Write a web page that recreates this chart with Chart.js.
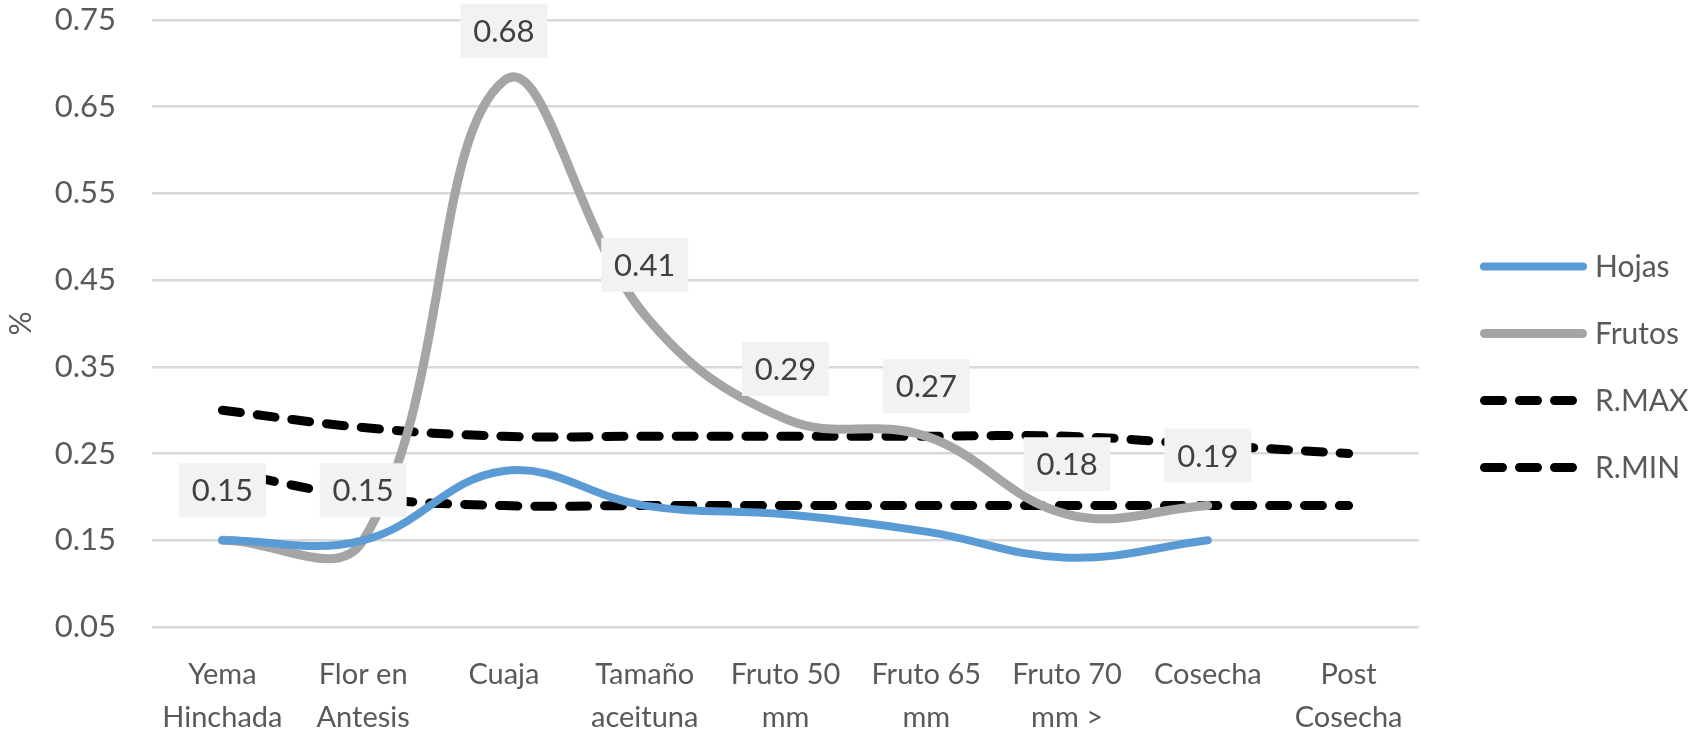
<!DOCTYPE html>
<html>
<head>
<meta charset="utf-8">
<script src="https://cdn.jsdelivr.net/npm/chart.js@4.4.1/dist/chart.umd.min.js"></script>
<style>
  html, body { margin: 0; padding: 0; background: #ffffff; }
  #wrap { width: 1696px; height: 734px; }
</style>
</head>
<body>
<div id="wrap"><canvas id="lineChart"></canvas></div>
<script>
const stages = [
  ["Yema", "Hinchada"],
  ["Flor en", "Antesis"],
  ["Cuaja"],
  ["Tamaño", "aceituna"],
  ["Fruto 50", "mm"],
  ["Fruto 65", "mm"],
  ["Fruto 70", "mm >"],
  ["Cosecha"],
  ["Post", "Cosecha"],
];

const hojas = [0.15, 0.15, 0.23, 0.19, 0.18, 0.16, 0.13, 0.15, null];
const frutos = [0.15, 0.15, 0.68, 0.41, 0.29, 0.27, 0.18, 0.19, null];
const rMax = [0.3, 0.28, 0.27, 0.27, 0.27, 0.27, 0.27, 0.26, 0.25];
const rMin = [0.23, 0.2, 0.19, 0.19, 0.19, 0.19, 0.19, 0.19, 0.19];

const yTicks = [0.05, 0.15, 0.25, 0.35, 0.45, 0.55, 0.65, 0.75];

const textColor = "#595959";
Chart.defaults.font.family = "Lato";

// grey value boxes sitting above the Frutos points
const valueBoxes = {
  id: "valueBoxes",
  afterDatasetsDraw(chart) {
    const ctx = chart.ctx;
    const meta = chart.getDatasetMeta(1);
    const w = 87;
    const h = 54;
    ctx.save();
    ctx.font = "31px Lato";
    ctx.textAlign = "center";
    ctx.textBaseline = "middle";
    meta.data.forEach((pt, i) => {
      const v = frutos[i];
      if (v === null) return;
      const top = pt.y - 23 - h;
      ctx.fillStyle = "#f2f2f2";
      ctx.fillRect(pt.x - w / 2, top, w, h);
      ctx.fillStyle = "#404040";
      ctx.fillText(v.toFixed(2), pt.x, top + h / 2 + 1);
    });
    ctx.restore();
  },
};

// legend on the right, one line sample per series
const sideLegend = {
  id: "sideLegend",
  afterDraw(chart) {
    const ctx = chart.ctx;
    const x0 = chart.chartArea.right + 61;
    const x1 = x0 + 107;
    const step = 67;
    const sets = chart.data.datasets;
    const y0 = chart.height / 2 - (step * (sets.length - 1)) / 2;
    ctx.save();
    sets.forEach((ds, i) => {
      const y = y0 + i * step;
      const cap = ds.borderWidth / 2;
      ctx.beginPath();
      ctx.strokeStyle = ds.borderColor;
      ctx.lineWidth = ds.borderWidth;
      ctx.lineCap = "round";
      ctx.setLineDash(ds.borderDash || []);
      ctx.moveTo(x0 + cap, y);
      ctx.lineTo(x1 - cap, y);
      ctx.stroke();
      ctx.setLineDash([]);
      ctx.fillStyle = textColor;
      ctx.font = "30px Lato";
      ctx.textAlign = "left";
      ctx.textBaseline = "middle";
      ctx.fillText(ds.label, x1 + 8, y + 1);
    });
    ctx.restore();
  },
};

const lineChart = new Chart("lineChart", {
  type: "line",
  data: {
    labels: stages,
    datasets: [
      {
        label: "Hojas",
        data: hojas,
        borderColor: "#5b9bd5",
        borderWidth: 8,
        borderCapStyle: "round",
        tension: 0.4,
        pointRadius: 0,
      },
      {
        label: "Frutos",
        data: frutos,
        borderColor: "#a5a5a5",
        borderWidth: 9,
        borderCapStyle: "round",
        tension: 0.4,
        pointRadius: 0,
      },
      {
        label: "R.MAX",
        data: rMax,
        borderColor: "#000000",
        borderWidth: 9,
        borderDash: [18, 17],
        borderCapStyle: "round",
        tension: 0.4,
        pointRadius: 0,
      },
      {
        label: "R.MIN",
        data: rMin,
        borderColor: "#000000",
        borderWidth: 9,
        borderDash: [18, 17],
        borderCapStyle: "round",
        tension: 0.4,
        pointRadius: 0,
      },
    ],
  },
  options: {
    responsive: true,
    maintainAspectRatio: false,
    devicePixelRatio: 1,
    animation: false,
    layout: {
      padding: { top: 20, right: 277, bottom: 0, left: 0 },
    },
    plugins: {
      legend: { display: false },
      tooltip: { enabled: false },
    },
    scales: {
      x: {
        offset: true,
        grid: { display: false, drawTicks: false },
        border: { display: false },
        ticks: {
          color: textColor,
          font: { size: 29, lineHeight: 1.48 },
          padding: 26,
          maxRotation: 0,
          autoSkip: false,
        },
        afterFit(scale) {
          scale.height = 107;
          scale.paddingLeft = 0;
          scale.paddingRight = 0;
        },
      },
      y: {
        min: 0.05,
        max: 0.75,
        grid: { color: "#d9d9d9", lineWidth: 2.5, drawTicks: false },
        border: { display: false },
        ticks: {
          color: textColor,
          font: { size: 31 },
          padding: 36,
          callback: (v) => v.toFixed(2),
        },
        afterBuildTicks(scale) {
          scale.ticks = yTicks.map((v) => ({ value: v }));
        },
        afterFit(scale) {
          scale.width = 152;
          scale.paddingTop = 0;
          scale.paddingBottom = 0;
        },
        title: {
          display: true,
          text: "%",
          color: textColor,
          font: { size: 30 },
          padding: { top: 3, bottom: 0 },
        },
      },
    },
  },
  plugins: [valueBoxes, sideLegend],
});
</script>
</body>
</html>
